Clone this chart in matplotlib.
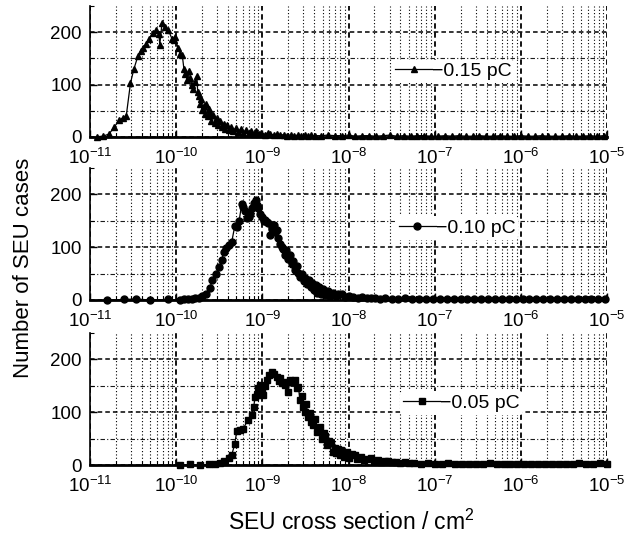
import numpy as np
import matplotlib
matplotlib.use("Agg")
import matplotlib.pyplot as plt
from matplotlib.ticker import FixedLocator, LogFormatterSciNotation, NullFormatter

plt.rcParams['font.family'] = ['Liberation Sans', 'DejaVu Sans']
plt.rcParams['mathtext.fontset'] = 'custom'
plt.rcParams['mathtext.rm'] = 'Liberation Sans'
plt.rcParams['mathtext.it'] = 'Liberation Sans:italic'
plt.rcParams['mathtext.bf'] = 'Liberation Sans:bold'

# ---------------- data (x given as log10 of cross section) ----------------
labels = ["\u22120.15 pC", "\u22120.10 pC", "\u22120.05 pC"]
markers = ["^", "o", "s"]

top_lx = [-10.92, -10.85, -10.78, -10.72, -10.66, -10.62, -10.58, -10.53, -10.49, -10.445,
          -10.41, -10.38, -10.35, -10.31, -10.27, -10.23, -10.20, -10.19, -10.165, -10.13,
          -10.09, -10.05, -10.03, -10.01, -9.98, -9.95, -9.93, -9.91, -9.894, -9.87,
          -9.85, -9.836, -9.82, -9.80, -9.78, -9.76, -9.75, -9.74, -9.72, -9.71,
          -9.70, -9.68, -9.66, -9.65, -9.63, -9.62, -9.605, -9.59, -9.57, -9.55,
          -9.53, -9.51, -9.49, -9.47, -9.45, -9.43, -9.41, -9.39, -9.36, -9.335,
          -9.31, -9.28, -9.25, -9.22, -9.19, -9.16, -9.13, -9.10, -9.07, -9.04,
          -9.01, -8.97, -8.94, -8.91, -8.87, -8.83, -8.79, -8.75, -8.71, -8.67,
          -8.63, -8.59, -8.55, -8.51, -8.47, -8.43, -8.39]
top_n = [0, 1, 5, 18, 32, 36, 39, 103, 130, 154,
         165, 170, 178, 188, 198, 204, 196, 176, 217, 210,
         204, 188, 185, 191, 170, 159, 157, 130, 120, 108,
         125, 113, 100, 91, 105, 117, 85, 78, 62, 72,
         52, 58, 44, 62, 40, 53, 45, 30, 42, 26,
         35, 22, 30, 18, 25, 15, 22, 12, 18, 10,
         16, 9, 14, 8, 12, 7, 11, 6, 10, 5,
         8, 4, 7, 6, 3, 5, 3, 4, 2, 4,
         2, 3, 2, 3, 1, 3, 2]
top_tail_lx = [-8.32, -8.24, -8.16, -8.08, -8.00, -7.92, -7.84, -7.76, -7.68, -7.60,
               -7.52, -7.44, -7.36, -7.28, -7.20, -7.12, -7.04, -6.96, -6.88, -6.80,
               -6.72, -6.64, -6.56, -6.48, -6.40, -6.32, -6.24, -6.16, -6.08, -6.00,
               -5.92, -5.84, -5.76, -5.68, -5.60, -5.52, -5.44, -5.36, -5.28, -5.20,
               -5.12, -5.04]
top_tail_n = [2, 3, 2, 2, 3, 1, 2, 2, 1, 2,
              3, 1, 2, 1, 2, 2, 1, 1, 2, 1,
              2, 1, 1, 2, 1, 1, 2, 1, 1, 2,
              1, 1, 2, 1, 1, 1, 2, 1, 1, 2,
              1, 2]

mid_lx = [-10.80, -10.60, -10.47, -10.30, -10.10, -9.95, -9.91, -9.86, -9.82, -9.78,
          -9.74, -9.70, -9.65, -9.61, -9.58, -9.54, -9.50, -9.47, -9.45, -9.42,
          -9.39, -9.355, -9.32, -9.297, -9.27, -9.24, -9.22, -9.20, -9.18, -9.16,
          -9.14, -9.12, -9.10, -9.077, -9.06, -9.046, -9.027, -9.00, -8.985, -8.97,
          -8.95, -8.93, -8.91, -8.89, -8.87, -8.85, -8.835, -8.815, -8.795, -8.775,
          -8.757, -8.74, -8.72, -8.70, -8.68, -8.66, -8.64, -8.62, -8.60, -8.584,
          -8.56, -8.54, -8.52, -8.50, -8.48, -8.46, -8.44, -8.42, -8.40, -8.38,
          -8.36, -8.34, -8.32, -8.30, -8.27, -8.24, -8.21, -8.18, -8.15, -8.12,
          -8.08, -8.04, -8.00, -7.95, -7.89, -7.84, -7.79, -7.74, -7.69, -7.64]
mid_n = [0, 1, 2, 0, 1, 0, 1, 1, 2, 3,
         4, 8, 11, 22, 38, 50, 62, 75, 91, 98,
         104, 110, 140, 139, 149, 181, 176, 168, 155, 158,
         162, 175, 184, 190, 180, 174, 162, 158, 150, 152,
         148, 146, 123, 135, 142, 128, 133, 118, 107, 100,
         97, 85, 95, 78, 86, 68, 74, 56, 64, 52,
         44, 50, 36, 42, 30, 38, 24, 33, 18, 28,
         14, 25, 12, 21, 10, 17, 8, 14, 7, 12,
         11, 6, 8, 5, 4, 5, 3, 4, 3, 2]
mid_tail_lx = [-7.58, -7.50, -7.42, -7.34, -7.26, -7.18, -7.10, -7.02, -6.94, -6.86,
               -6.78, -6.70, -6.62, -6.54, -6.46, -6.38, -6.30, -6.22, -6.14, -6.06,
               -5.98, -5.90, -5.82, -5.74, -5.66, -5.58, -5.50, -5.42, -5.34, -5.26,
               -5.18, -5.10, -5.02]
mid_tail_n = [3, 2, 2, 3, 2, 1, 2, 2, 1, 2,
              2, 1, 2, 1, 2, 1, 1, 2, 1, 2,
              1, 1, 2, 1, 1, 2, 1, 1, 2, 1,
              1, 2, 1]

bot_lx = [-9.95, -9.84, -9.72, -9.62, -9.55, -9.49, -9.44, -9.39, -9.355, -9.32,
          -9.297, -9.26, -9.22, -9.17, -9.124, -9.10, -9.084, -9.066, -9.046, -9.027,
          -9.00, -8.988, -8.97, -8.95, -8.92, -8.89, -8.86, -8.835, -8.81, -8.795,
          -8.777, -8.74, -8.72, -8.70, -8.68, -8.65, -8.62, -8.60, -8.584, -8.56,
          -8.54, -8.526, -8.50, -8.49, -8.468, -8.45, -8.43, -8.41, -8.39, -8.37,
          -8.353, -8.33, -8.31, -8.29, -8.275, -8.25, -8.23, -8.20, -8.18, -8.16,
          -8.14, -8.12, -8.10, -8.083, -8.05, -8.02, -7.99, -7.96, -7.93, -7.90,
          -7.86, -7.82, -7.78, -7.74, -7.70, -7.66, -7.62, -7.58, -7.54, -7.50,
          -7.45, -7.40, -7.35, -7.30]
bot_n = [0, 1, 0, 1, 2, 4, 8, 13, 19, 40,
         64, 66, 69, 85, 95, 110, 129, 133, 145, 152,
         140, 133, 150, 161, 170, 177, 172, 167, 160, 164,
         155, 152, 158, 139, 161, 158, 161, 145, 148, 123,
         130, 110, 100, 115, 91, 98, 82, 76, 88, 62,
         66, 72, 50, 60, 54, 38, 46, 41, 24, 33,
         22, 30, 18, 28, 16, 24, 13, 20, 19, 11,
         15, 9, 12, 13, 7, 10, 6, 8, 8, 5,
         6, 4, 5, 3]
bot_tail_lx = [-7.24, -7.16, -7.08, -7.00, -6.92, -6.84, -6.76, -6.68, -6.60, -6.52,
               -6.44, -6.36, -6.28, -6.20, -6.12, -6.04, -5.96, -5.88, -5.80, -5.72,
               -5.64, -5.56, -5.48, -5.40, -5.32, -5.24, -5.16, -5.08, -5.00]
bot_tail_n = [3, 2, 3, 2, 2, 3, 2, 2, 1, 2,
              2, 3, 2, 1, 2, 2, 1, 2, 2, 1,
              2, 2, 1, 2, 3, 2, 2, 3, 2]

x_min, x_max = 1e-11, 1e-5
y_max = 250
y_major = [0, 100, 200]
y_minor_grid = [50, 150]

series = [
    (top_lx + top_tail_lx, top_n + top_tail_n),
    (mid_lx + mid_tail_lx, mid_n + mid_tail_n),
    (bot_lx + bot_tail_lx, bot_n + bot_tail_n),
]
for lx, n in series:
    assert len(lx) == len(n), (len(lx), len(n))

# ---------------- layout ----------------
W, H = 634, 538
fig = plt.figure(figsize=(W / 100, H / 100), dpi=100)
left = 90 / W
width = (607 - 90) / W
boxes = [(136.7, 130.5), (300, 132), (465, 132)]  # bottom pixel y, height px
leg_pos = [(0.585, 0.50), (0.592, 0.545), (0.600, 0.47)]
msizes = [5, 5, 4.5]

for i, ((lx, n), (yb, hh)) in enumerate(zip(series, boxes)):
    ax = fig.add_axes([left, 1 - yb / H, width, hh / H])
    xs = np.power(10.0, np.array(lx))
    ax.plot(xs, n, linestyle='-', color='k', lw=0.9, marker=markers[i], ms=msizes[i],
            mfc='k', mec='k', label=labels[i], zorder=3, clip_on=False)
    ax.set_xscale('log')
    ax.set_xlim(x_min, x_max)
    ax.set_ylim(0, y_max)

    ax.xaxis.set_major_locator(FixedLocator([10.0 ** k for k in range(-11, -4)]))
    ax.xaxis.set_major_formatter(LogFormatterSciNotation())
    minors = [m * 10.0 ** k for k in range(-11, -5) for m in range(2, 10)]
    ax.xaxis.set_minor_locator(FixedLocator(minors))
    ax.xaxis.set_minor_formatter(NullFormatter())
    ax.yaxis.set_major_locator(FixedLocator(y_major))
    ax.yaxis.set_minor_locator(FixedLocator(y_minor_grid + [y_max]))

    ax.grid(True, which='major', axis='x', color='k', lw=1.3, ls=(0, (3, 2)), zorder=1)
    ax.grid(True, which='minor', axis='x', color='k', lw=0.8, ls=(0, (1, 2)), zorder=1)
    ax.grid(True, which='major', axis='y', color='k', lw=1.1, ls=(0, (3, 2)), zorder=1)
    for yv in y_minor_grid:
        ax.axhline(yv, color='0.1', lw=0.8, ls=(0, (4, 2, 1, 2)), zorder=1)

    for s in ['top', 'right']:
        ax.spines[s].set_visible(False)
    ax.spines['left'].set_linewidth(1.2)
    ax.spines['bottom'].set_linewidth(2.0)
    ax.tick_params(axis='both', which='major', direction='in', length=5, width=1.0,
                   labelsize=13.5, colors='k')
    ax.tick_params(axis='both', which='minor', direction='in', length=3, width=0.8)
    ax.tick_params(axis='x', which='major', pad=8)
    ax.tick_params(axis='y', which='major', pad=6)

    leg = ax.legend(loc='center left', bbox_to_anchor=leg_pos[i], frameon=True,
                    facecolor='white', edgecolor='none', framealpha=1, fontsize=14,
                    handlelength=1.9, handletextpad=0.0, borderpad=0.15,
                    borderaxespad=0, numpoints=1)
    leg.set_zorder(5)

fig.text(24 / W, 1 - 268 / H, 'Number of SEU cases', rotation=90,
         ha='center', va='center', fontsize=16)
fig.text(351 / W, 1 - 522 / H, 'SEU cross section / cm$^2$',
         ha='center', va='center', fontsize=16.5)

fig.savefig('out.png', dpi=100, facecolor='white')
